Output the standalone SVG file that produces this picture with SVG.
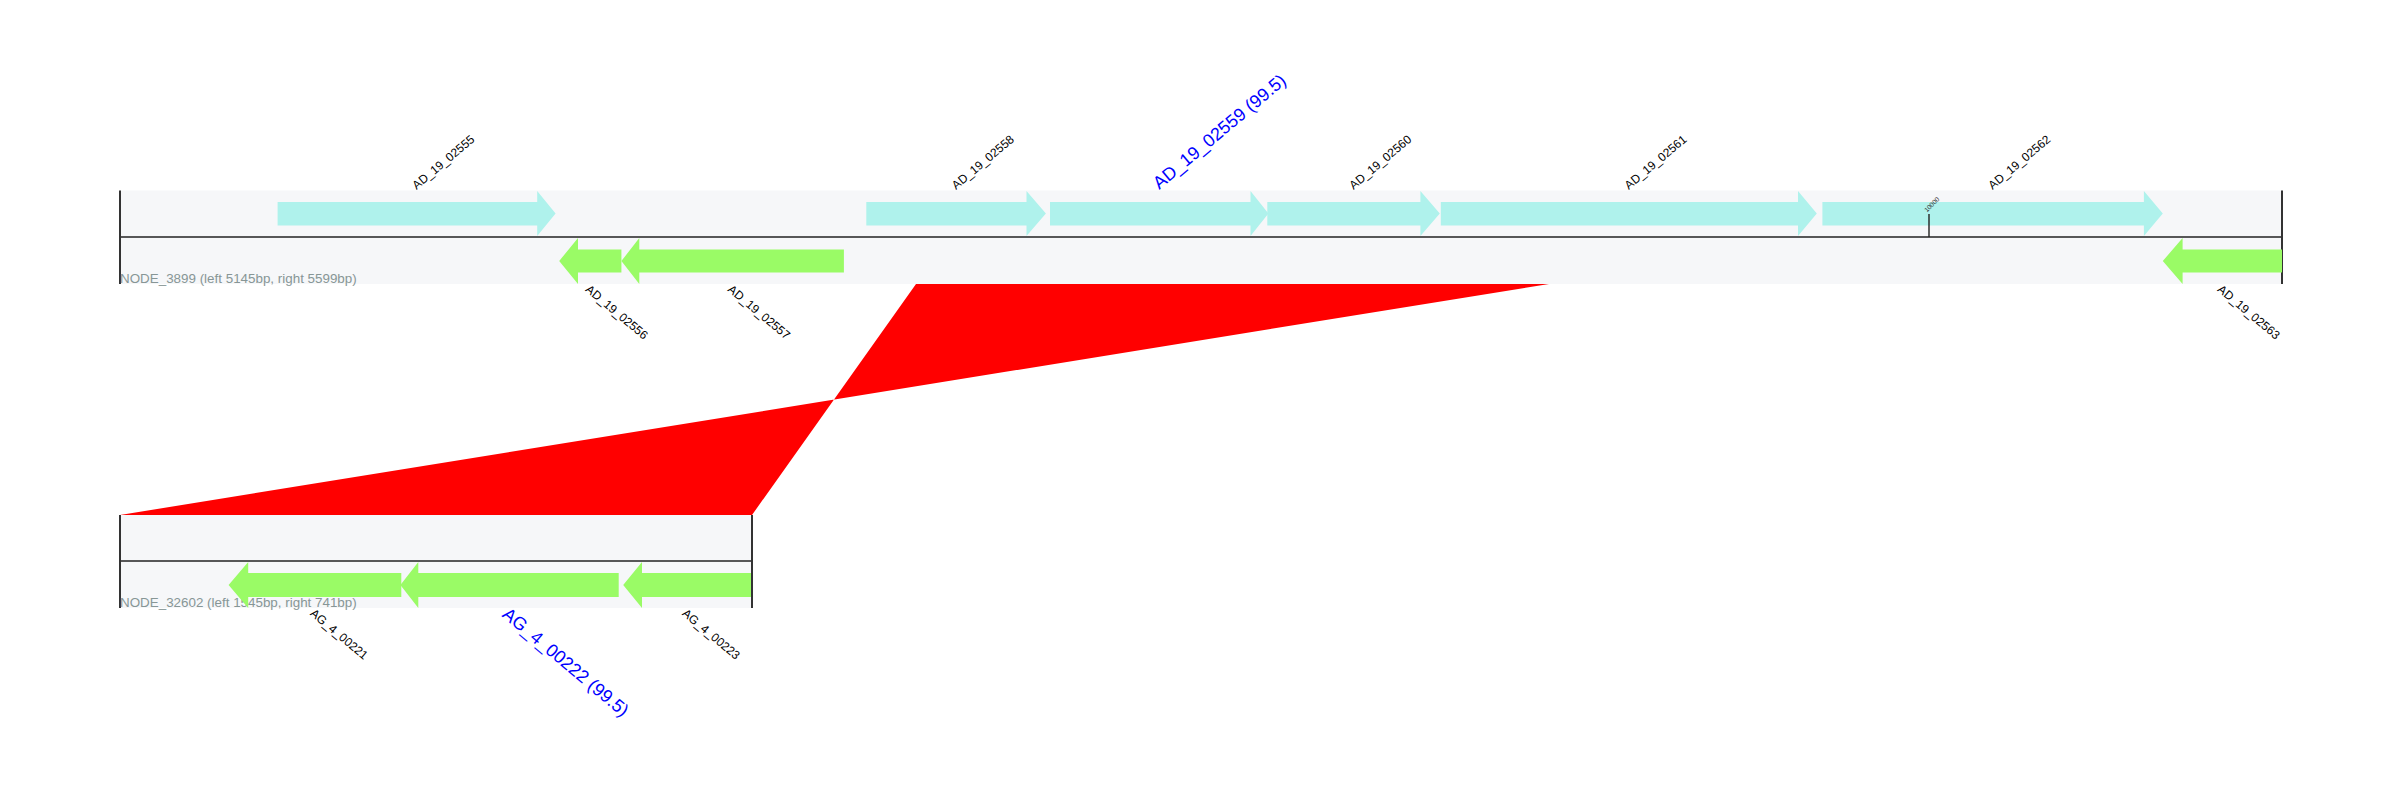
<svg xmlns="http://www.w3.org/2000/svg" width="2401" height="800" viewBox="0 0 2401 800">
<defs>
<style>
.bg{fill:#f6f7f9}
.axis{stroke:#222;stroke-width:1.6;fill:none}
.end{stroke:#333;stroke-width:2;fill:none}
.fwd{fill:#aff2ec}
.rev{fill:#9afb66}
.lbl{font-family:"Liberation Sans",Arial,Helvetica,sans-serif;font-size:12px;fill:#000}
.hit{font-family:"Liberation Sans",Arial,Helvetica,sans-serif;font-size:18px;fill:#0000ff}
.name{font-family:"Liberation Sans",Arial,Helvetica,sans-serif;font-size:13.4px;fill:#879696}
.tick{stroke:#222;stroke-width:1.4}
.ticklbl{font-family:"Liberation Sans",Arial,Helvetica,sans-serif;font-size:6.5px;fill:#333}
.aln{fill:#ff0000}
</style>
</defs>
<rect width="2401" height="800" fill="#ffffff"/>

<!-- contig tracks -->
<g id="NODE_3899">
<rect class="bg" x="120" y="190.5" width="2162" height="93.5"/>
<line class="axis" x1="120" y1="237" x2="2282" y2="237"/>
<line class="end" x1="120" y1="190.5" x2="120" y2="284"/>
<line class="end" x1="2282" y1="190.5" x2="2282" y2="284"/>
<text class="name" x="120" y="283">NODE_3899 (left 5145bp, right 5599bp)</text>
</g>
<g id="NODE_32602">
<rect class="bg" x="120" y="515" width="632" height="93"/>
<line class="axis" x1="120" y1="561" x2="752" y2="561"/>
<line class="end" x1="120" y1="515" x2="120" y2="608"/>
<line class="end" x1="752" y1="515" x2="752" y2="608"/>
<text class="name" x="120" y="607">NODE_32602 (left 1545bp, right 741bp)</text>
</g>

<!-- alignment connector -->
<g id="connectors">
<polygon class="aln" points="916,284 1549,284 120,515 752,515"/>
</g>

<!-- genes, top contig -->
<g id="AD_19_02555">
<path class="fwd" d="M277.6,202 H537.2 V191 L555.6,213.5 L537.2,236 V225.5 H277.6 Z"/>
<text class="lbl" transform="translate(416.6,190) rotate(-40)">AD_19_02555</text>
</g>
<g id="AD_19_02556">
<path class="rev" d="M621.4,249.5 H578 V238 L559.2,261 L578,284 V272.5 H621.4 Z"/>
<text class="lbl" transform="translate(590.3,284) rotate(40)" y="8.6">AD_19_02556</text>
</g>
<g id="AD_19_02557">
<path class="rev" d="M843.9,249.5 H639.3 V238 L621.4,261 L639.3,284 V272.5 H843.9 Z"/>
<text class="lbl" transform="translate(732.6,284) rotate(40)" y="8.6">AD_19_02557</text>
</g>
<g id="AD_19_02558">
<path class="fwd" d="M866.3,202 H1026.5 V191 L1045.9,213.5 L1026.5,236 V225.5 H866.3 Z"/>
<text class="lbl" transform="translate(956.1,190) rotate(-40)">AD_19_02558</text>
</g>
<g id="AD_19_02559">
<path class="fwd" d="M1050,202 H1250.5 V191 L1268.4,213.5 L1250.5,236 V225.5 H1050 Z"/>
<text class="hit" transform="translate(1159.2,190) rotate(-40)">AD_19_02559 (99.5)</text>
</g>
<g id="AD_19_02560">
<path class="fwd" d="M1267.3,202 H1420.4 V191 L1439.8,213.5 L1420.4,236 V225.5 H1267.3 Z"/>
<text class="lbl" transform="translate(1353.5,190) rotate(-40)">AD_19_02560</text>
</g>
<g id="AD_19_02561">
<path class="fwd" d="M1440.8,202 H1798 V191 L1816.8,213.5 L1798,236 V225.5 H1440.8 Z"/>
<text class="lbl" transform="translate(1628.8,190) rotate(-40)">AD_19_02561</text>
</g>
<g id="AD_19_02562">
<path class="fwd" d="M1822.4,202 H2143.9 V191 L2162.8,213.5 L2143.9,236 V225.5 H1822.4 Z"/>
<text class="lbl" transform="translate(1992.6,190) rotate(-40)">AD_19_02562</text>
</g>
<g id="AD_19_02563">
<path class="rev" d="M2282,249.5 H2182.6 V238 L2162.8,261 L2182.6,284 V272.5 H2282 Z"/>
<text class="lbl" transform="translate(2222.4,284) rotate(40)" y="8.6">AD_19_02563</text>
</g>
<g id="tick_10000">
<line class="tick" x1="1929" y1="214" x2="1929" y2="237"/>
<text class="ticklbl" transform="translate(1927,212.5) rotate(-45)">10000</text>
</g>

<!-- genes, bottom contig -->
<g id="AG_4_00221">
<path class="rev" d="M401.3,573 H248.2 V562 L228.6,585 L248.2,608 V597 H401.3 Z"/>
<text class="lbl" transform="translate(315,608) rotate(40)" y="8.6">AG_4_00221</text>
</g>
<g id="AG_4_00222">
<path class="rev" d="M618.7,573 H418.3 V562 L400.4,585 L418.3,608 V597 H618.7 Z"/>
<text class="hit" transform="translate(509.6,606) rotate(40)" y="12.9">AG_4_00222 (99.5)</text>
</g>
<g id="AG_4_00223">
<path class="rev" d="M751,573 H642 V562 L623.2,585 L642,608 V597 H751 Z"/>
<text class="lbl" transform="translate(687,608) rotate(40)" y="8.6">AG_4_00223</text>
</g>
</svg>
